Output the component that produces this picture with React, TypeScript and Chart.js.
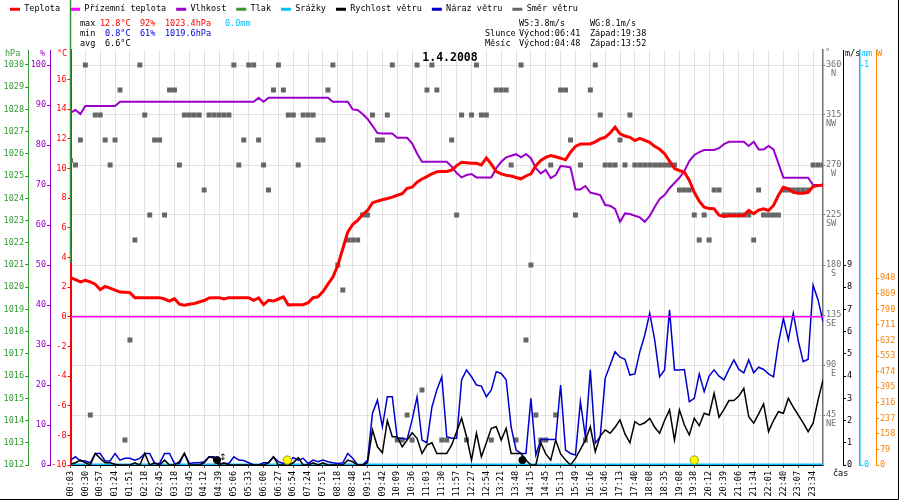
import React, { useEffect, useRef } from 'react';
import { Chart, registerables } from 'chart.js';

Chart.register(...registerables);

const FONT = "'DejaVu Sans Mono', monospace";

// time label shown every 3rd sample
const timeLabels = [
  '00:03', '00:30', '00:57', '01:24', '01:51', '02:18', '02:45', '03:18', '03:45', '04:12',
  '04:39', '05:06', '05:33', '06:00', '06:27', '06:54', '07:24', '07:51', '08:18', '08:48',
  '09:15', '09:42', '10:09', '10:36', '11:03', '11:30', '11:57', '12:27', '12:54', '13:21',
  '13:48', '14:15', '14:45', '15:13', '15:49', '16:16', '16:46', '17:13', '17:40', '18:08',
  '18:35', '19:08', '19:38', '20:12', '20:39', '21:06', '21:34', '22:01', '22:40', '23:07',
  '23:34',
];

// °C
const temperature = [
  2.64, 2.5, 2.35, 2.46, 2.35, 2.2, 1.83, 2.05, 1.94, 1.8,
  1.67, 1.65, 1.63, 1.29, 1.29, 1.29, 1.29, 1.29, 1.29, 1.2,
  1.06, 1.22, 0.85, 0.78, 0.84, 0.9, 1.0, 1.1, 1.27, 1.29,
  1.29, 1.2, 1.29, 1.29, 1.29, 1.29, 1.29, 1.11, 1.27, 0.82,
  1.11, 1.06, 1.2, 1.34, 0.8, 0.82, 0.82, 0.82, 0.95, 1.29,
  1.35, 1.7, 2.2, 2.68, 3.47, 4.59, 5.71, 6.23, 6.5, 6.9,
  7.17, 7.69, 7.8, 7.9, 7.98, 8.07, 8.2, 8.3, 8.67, 8.74,
  9.08, 9.3, 9.46, 9.65, 9.78, 9.8, 9.8, 9.9, 10.2, 10.43,
  10.4, 10.36, 10.36, 10.25, 10.72, 10.3, 9.8, 9.64, 9.55, 9.5,
  9.4, 9.31, 9.5, 9.64, 10.2, 10.55, 10.75, 10.88, 10.8, 10.7,
  10.59, 11.1, 11.5, 11.66, 11.66, 11.66, 11.8, 12.0, 12.11, 12.4,
  12.8, 12.34, 12.2, 12.11, 11.89, 12.04, 11.9, 11.77, 11.5, 11.3,
  11.0, 10.5, 10.0, 9.87, 9.75, 9.2, 8.4, 7.8, 7.39, 7.3,
  7.29, 6.85, 6.77, 6.84, 6.84, 6.84, 6.84, 7.17, 6.95, 7.2,
  7.29, 7.17, 7.51, 8.2, 8.74, 8.63, 8.4, 8.34, 8.34, 8.4,
  8.79, 8.85, 8.9,
];

// °C, ground sensor
const groundTemperature = [
  0, 0, 0, 0, 0, 0, 0, 0, 0, 0, 0, 0, 0, 0, 0, 0, 0,
  0, 0, 0, 0, 0, 0, 0, 0, 0, 0, 0, 0, 0, 0, 0, 0, 0,
  0, 0, 0, 0, 0, 0, 0, 0, 0, 0, 0, 0, 0, 0, 0, 0, 0,
  0, 0, 0, 0, 0, 0, 0, 0, 0, 0, 0, 0, 0, 0, 0, 0, 0,
  0, 0, 0, 0, 0, 0, 0, 0, 0, 0, 0, 0, 0, 0, 0, 0, 0,
  0, 0, 0, 0, 0, 0, 0, 0, 0, 0, 0, 0, 0, 0, 0, 0, 0,
  0, 0, 0, 0, 0, 0, 0, 0, 0, 0, 0, 0, 0, 0, 0, 0, 0,
  0, 0, 0, 0, 0, 0, 0, 0, 0, 0, 0, 0, 0, 0, 0, 0, 0,
  0, 0, 0, 0, 0, 0, 0, 0, 0, 0, 0, 0, 0, 0, 0, 0, 0,
];

// %
const humidity = [
  88.1, 88.75, 87.75, 89.75, 89.75, 89.75, 89.75, 89.75, 89.75, 89.75,
  90.8, 90.8, 90.8, 90.8, 90.8, 90.8, 90.8, 90.8, 90.8, 90.8,
  90.8, 90.8, 90.8, 90.8, 90.8, 90.8, 90.8, 90.8, 90.8, 90.8,
  90.8, 90.8, 90.8, 90.8, 90.8, 90.8, 90.8, 90.8, 91.8, 90.8,
  91.8, 91.8, 91.8, 91.8, 91.8, 91.8, 91.8, 91.8, 91.8, 91.8,
  91.8, 91.8, 91.8, 90.8, 90.8, 90.8, 90.8, 88.9, 88.75, 87.75,
  86.5, 84.8, 83.0, 82.9, 82.9, 82.9, 81.8, 81.8, 81.8, 80.4,
  77.9, 75.8, 75.8, 75.8, 75.8, 75.8, 75.8, 74.6, 73.0, 71.9,
  72.5, 72.75, 71.9, 71.9, 71.9, 71.9, 74.2, 75.8, 76.9, 77.3,
  77.7, 76.9, 77.75, 76.7, 74.2, 72.9, 73.75, 71.7, 72.5, 74.75,
  74.6, 74.4, 68.9, 68.9, 69.75, 68.1, 67.8, 67.5, 65.0, 64.8,
  64.0, 60.8, 62.9, 62.75, 62.3, 61.9, 60.8, 62.25, 64.5, 66.5,
  67.5, 69.2, 70.5, 71.8, 73.5, 76.0, 77.5, 78.2, 78.75, 78.75,
  78.75, 79.2, 80.2, 80.8, 80.8, 80.8, 80.8, 79.75, 80.8, 78.9,
  78.9, 79.75, 78.9, 75.4, 71.8, 71.8, 71.8, 71.8, 71.8, 71.8,
  70, 70, 70,
];

// hPa: only the first sample is drawn, its trace runs off the top of the chart
const pressure = [1021.1, 1036];

// mm
const rain = [
  0, 0, 0, 0, 0, 0, 0, 0, 0, 0, 0, 0, 0, 0, 0, 0, 0,
  0, 0, 0, 0, 0, 0, 0, 0, 0, 0, 0, 0, 0, 0, 0, 0, 0,
  0, 0, 0, 0, 0, 0, 0, 0, 0, 0, 0, 0, 0, 0, 0, 0, 0,
  0, 0, 0, 0, 0, 0, 0, 0, 0, 0, 0, 0, 0, 0, 0, 0, 0,
  0, 0, 0, 0, 0, 0, 0, 0, 0, 0, 0, 0, 0, 0, 0, 0, 0,
  0, 0, 0, 0, 0, 0, 0, 0, 0, 0, 0, 0, 0, 0, 0, 0, 0,
  0, 0, 0, 0, 0, 0, 0, 0, 0, 0, 0, 0, 0, 0, 0, 0, 0,
  0, 0, 0, 0, 0, 0, 0, 0, 0, 0, 0, 0, 0, 0, 0, 0, 0,
  0, 0, 0, 0, 0, 0, 0, 0, 0, 0, 0, 0, 0, 0, 0, 0, 0,
];

// m/s
const windSpeed = [
  0.03, 0.1, 0.22, 0.1, 0, 0.52, 0.3, 0.1, 0.1, 0.03,
  0, 0, 0, 0.1, 0, 0.52, 0, 0.1, 0, 0.22,
  0, 0, 0.15, 0.52, 0, 0, 0, 0.1, 0.37, 0.3,
  0, 0.1, 0, 0, 0, 0, 0, 0, 0, 0,
  0.1, 0.37, 0, 0, 0, 0.1, 0.33, 0, 0, 0.1,
  0, 0.1, 0, 0, 0, 0, 0.22, 0.15, 0, 0,
  0.1, 1.58, 0.82, 0.55, 2.0, 1.27, 1.27, 0.82, 1.12, 1.45,
  1.2, 0.52, 0.9, 1.0, 0.52, 0.52, 0.52, 0.9, 1.5, 2.1,
  1.27, 0.22, 1.43, 0.37, 1.0, 1.65, 1.72, 1.12, 1.65, 0.52,
  0.52, 0.52, 0.22, 0, 0, 1.0, 0.5, 0.22, 1.12, 0.5,
  0.22, 0, 0.3, 0.7, 1.12, 1.72, 0.6, 1.3, 1.58, 1.43,
  1.7, 2.03, 1.4, 1.0, 1.95, 1.8, 1.9, 2.1, 1.7, 1.43,
  2.0, 2.48, 1.12, 2.48, 1.8, 1.35, 2.1, 1.77, 2.33, 2.25,
  3.23, 2.15, 2.5, 2.9, 2.9, 3.1, 3.45, 2.17, 1.88, 2.3,
  2.75, 1.5, 2.0, 2.4, 2.33, 3.0, 2.6, 2.25, 1.9, 1.5,
  1.88, 2.92, 3.83,
];

// m/s
const windGust = [
  0.22, 0.37, 0.18, 0.18, 0.1, 0.52, 0.52, 0.18, 0.18, 0.52,
  0.22, 0.3, 0.3, 0.22, 0.3, 0.52, 0.52, 0.07, 0.07, 0.52,
  0.52, 0.07, 0.07, 0.52, 0.07, 0.1, 0.1, 0.15, 0.37, 0.37,
  0.07, 0.07, 0.07, 0.37, 0.22, 0.2, 0.1, 0, 0, 0.1,
  0.1, 0.37, 0.15, 0.07, 0.15, 0.33, 0.22, 0.3, 0.07, 0.22,
  0.15, 0.22, 0.15, 0.1, 0.07, 0.1, 0.52, 0.3, 0, 0,
  0.22, 2.33, 2.92, 1.72, 3.07, 3.07, 1.2, 1.2, 1.15, 2.03,
  3.07, 1.12, 1.0, 2.6, 3.38, 3.97, 1.27, 1.2, 1.2, 3.83,
  4.28, 3.97, 3.6, 3.55, 3.07, 3.38, 4.2, 4.12, 3.83, 1.72,
  0.67, 0.52, 0.52, 3.0, 0.45, 1.15, 1.15, 1.15, 1.15, 3.6,
  0.67, 0.52, 0.45, 2.85, 1.27, 4.28, 0.98, 1.27, 3.9, 4.5,
  5.1, 4.85, 4.76, 4.05, 4.1, 5.1, 5.85, 6.83, 5.63, 3.97,
  4.28, 6.98, 4.28, 4.28, 4.3, 2.85, 3.0, 4.1, 3.3, 4.0,
  4.28, 4.0, 3.83, 4.3, 4.73, 4.3, 4.15, 4.73, 4.15, 4.4,
  4.3, 4.1, 3.97, 5.5, 6.6, 5.63, 6.83, 5.6, 4.65, 4.76,
  8.1, 7.43, 6.45,
];

// degrees
const windDirection = [
  274, 270, 292.5, 360, 45, 315, 315, 292.5, 270, 292.5,
  337.5, 22.5, 112.5, 202.5, 360, 315, 225, 292.5, 292.5, 225,
  337.5, 337.5, 270, 315, 315, 315, 315, 247.5, 315, 315,
  315, 315, 315, 360, 270, 292.5, 360, 360, 292.5, 270,
  247.5, 337.5, 360, 337.5, 315, 315, 270, 315, 315, 315,
  292.5, 292.5, 337.5, 360, 180, 157.5, 202.5, 202.5, 202.5, 225,
  225, 315, 292.5, 292.5, 315, 360, 22.5, 22.5, 45, 22.5,
  360, 67.5, 337.5, 360, 337.5, 22.5, 22.5, 292.5, 225, 315,
  22.5, 315, 360, 315, 315, 22.5, 337.5, 337.5, 337.5, 270,
  22.5, 360, 112.5, 180, 45, 22.5, 22.5, 270, 45, 337.5,
  337.5, 292.5, 225, 270, 22.5, 337.5, 360, 315, 270, 270,
  270, 292.5, 270, 315, 270, 270, 270, 270, 270, 270,
  270, 270, 270, 247.5, 247.5, 247.5, 225, 202.5, 225, 202.5,
  247.5, 247.5, 225, 225, 225, 225, 225, 225, 202.5, 247.5,
  225, 225, 225, 225, 247.5, 247.5, 247.5, 247.5, 247.5, 247.5,
  270, 270, 270,
];

// sun / moon rise and set, as sample positions
const sunEvents = [43.8, 126.0];
const moonEvents = [29.6, 91.3];
const moonArrow = [30.8];

const dirTicks = [45, 90, 135, 180, 225, 270, 315, 360];
const dirNames = ['NE', ' E', 'SE', ' S', 'SW', ' W', 'NW', ' N'];

const statsMax = ['12.8°C', '92%', '1023.4hPa', '0.0mm'];
const statsMin = ['0.8°C', '61%', '1019.6hPa'];
const statsAvg = ['6.6°C'];
const windStats = ['WS:3.8m/s', 'WG:8.1m/s'];
const sunText = ['Slunce', 'Východ:06:41', 'Západ:19:38'];
const moonText = ['Měsíc', 'Východ:04:48', 'Západ:13:52'];
const chartTitle = '1.4.2008';

const RED = '#ff0000';
const BLUE = '#0000dd';
const CYAN = '#00bfff';
const GREEN = '#339933';
const PURPLE = '#9900cc';
const GRAY = '#707070';
const ORANGE = '#ff8000';
const GRID = '#e6e1e1';

const series = (vals: number[]) => vals.map((v, i) => ({ x: i, y: v }));

const textPlugin = {
  id: 'meteoTexts',
  afterDraw(chart: any) {
    const ctx = chart.ctx;
    ctx.save();
    ctx.textBaseline = 'middle';
    ctx.textAlign = 'left';
    ctx.font = `8.5px ${FONT}`;
    const put = (s: string, x: number, y: number, c: string) => {
      ctx.fillStyle = c;
      ctx.fillText(s, x, y);
    };
    // statistics
    put('max', 80, 24, '#000');
    put(statsMax[0], 100, 24, RED);
    put(statsMax[1], 140, 24, RED);
    put(statsMax[2], 165, 24, RED);
    put(statsMax[3], 225, 24, CYAN);
    put('min', 80, 34, '#000');
    put(statsMin[0], 105, 34, BLUE);
    put(statsMin[1], 140, 34, BLUE);
    put(statsMin[2], 165, 34, BLUE);
    put('avg', 80, 44, '#000');
    put(statsAvg[0], 105, 44, '#000');
    put(windStats[0], 519, 24, '#000');
    put(windStats[1], 590, 24, '#000');
    put(sunText[0], 485, 34, '#000');
    put(sunText[1], 519, 34, '#000');
    put(sunText[2], 590, 34, '#000');
    put(moonText[0], 485, 44, '#000');
    put(moonText[1], 519, 44, '#000');
    put(moonText[2], 590, 44, '#000');
    // units
    put('hPa', 5, 54, GREEN);
    put('%', 40, 54, PURPLE);
    put('°C', 57, 54, RED);
    put('°', 825, 53, GRAY);
    put('m/s', 845, 54, '#000');
    put('mm', 862, 54, CYAN);
    put('W', 877, 54, ORANGE);
    put('čas', 833, 474, '#000');
    // moon arrow
    const xs = chart.scales.x;
    const yw = chart.scales.yW;
    ctx.font = `9px 'DejaVu Sans'`;
    ctx.textAlign = 'center';
    moonArrow.forEach((v) => put('↕', xs.getPixelForValue(v), yw.getPixelForValue(0.32), '#000'));
    // title
    ctx.font = `bold 11.5px ${FONT}`;
    put(chartTitle, 450, 58, '#000');
    // frame
    ctx.strokeStyle = '#000';
    ctx.lineWidth = 1;
    ctx.beginPath();
    ctx.moveTo(898.5, 0);
    ctx.lineTo(898.5, 499.5);
    ctx.lineTo(0, 499.5);
    ctx.stroke();
    ctx.restore();
  },
};

export default function App() {
  const ref = useRef<HTMLCanvasElement>(null);

  useEffect(() => {
    const canvas = ref.current;
    if (!canvas) return;
    const axisFont = { family: FONT, size: 8.5 };
    const fixWidth = (w: number) => (s: any) => {
      s.width = w;
    };
    const upTo = (m: number) => (s: any) => {
      s.ticks = s.ticks.filter((t: any) => t.value <= m);
    };
    const yAxis = (o: any) => ({
      type: 'linear',
      position: o.position,
      weight: o.weight,
      min: o.min,
      max: o.max,
      ticks: {
        stepSize: o.step,
        includeBounds: false,
        color: o.color,
        font: axisFont,
        padding: 1,
        autoSkip: false,
        callback: (v: any) => String(v),
      },
      grid: { drawOnChartArea: false, tickLength: 3, color: o.color },
      border: { color: o.color, width: o.bw ?? 1 },
      afterFit: fixWidth(o.width),
      afterBuildTicks: o.limit !== undefined ? upTo(o.limit) : undefined,
    });

    const chart = new Chart(canvas, {
      type: 'line',
      data: {
        datasets: [
          { label: 'Teplota', data: series(temperature), yAxisID: 'yT', borderColor: RED, backgroundColor: RED, borderWidth: 3, order: 2 },
          { label: 'Přízemní teplota', data: series(groundTemperature), yAxisID: 'yT', borderColor: '#ff00ff', backgroundColor: '#ff00ff', borderWidth: 1.5, order: 3 },
          { label: 'Vlhkost', data: series(humidity), yAxisID: 'yH', borderColor: PURPLE, backgroundColor: PURPLE, borderWidth: 2, order: 4 },
          { label: 'Tlak', data: pressure.map((v) => ({ x: 0, y: v })), yAxisID: 'yP', borderColor: GREEN, backgroundColor: GREEN, borderWidth: 1.5, clip: false, order: 1 },
          { label: 'Srážky', data: series(rain), yAxisID: 'yR', borderColor: CYAN, backgroundColor: CYAN, borderWidth: 3, order: 7 },
          { label: 'Rychlost větru', data: series(windSpeed), yAxisID: 'yW', borderColor: '#000', backgroundColor: '#000', borderWidth: 1.5, order: 5 },
          { label: 'Náraz větru', data: series(windGust), yAxisID: 'yW', borderColor: '#0000cc', backgroundColor: '#0000cc', borderWidth: 1.5, order: 6 },
          { label: 'Směr větru', data: series(windDirection), yAxisID: 'yD', showLine: false, pointStyle: 'rect', pointRadius: 3.5, pointBorderWidth: 0, borderColor: '#666', backgroundColor: '#666', pointBackgroundColor: '#666', order: 8 },
          { label: 'sun', data: sunEvents.map((x) => ({ x, y: 0.22 })), yAxisID: 'yW', showLine: false, pointRadius: 4.2, pointBackgroundColor: '#ffff00', pointBorderColor: '#999900', pointBorderWidth: 1, order: 0 },
          { label: 'moon', data: moonEvents.map((x) => ({ x, y: 0.22 })), yAxisID: 'yW', showLine: false, pointRadius: 3.6, pointBackgroundColor: '#000', pointBorderColor: '#000', pointBorderWidth: 1, order: 0 },
        ],
      },
      options: {
        animation: false,
        responsive: false,
        maintainAspectRatio: false,
        events: [],
        layout: { padding: { top: -5, left: 0, right: 0, bottom: 0 } },
        elements: { line: { tension: 0 }, point: { radius: 0 } },
        plugins: {
          legend: {
            position: 'top',
            align: 'start',
            weight: 3000,
            labels: {
              font: axisFont,
              color: '#000',
              boxWidth: 10,
              boxHeight: 3,
              padding: 10,
              filter: (it: any) => it.datasetIndex < 8,
              sort: (a: any, b: any) => a.datasetIndex - b.datasetIndex,
              generateLabels: (c: any) =>
                (Chart.defaults.plugins.legend.labels as any)
                  .generateLabels(c)
                  .map((l: any) => ({ ...l, fillStyle: l.strokeStyle, lineWidth: 0 })),
            },
          },
          title: { display: true, text: '', padding: { top: 0, bottom: 16.5 }, font: { family: FONT, size: 10, lineHeight: 1 } },
          tooltip: { enabled: false },
        },
        scales: {
          x: {
            type: 'linear',
            position: 'bottom',
            min: 0,
            max: temperature.length - 1,
            ticks: {
              stepSize: 3,
              includeBounds: false,
              autoSkip: false,
              minRotation: 90,
              maxRotation: 90,
              padding: 3,
              color: '#000',
              font: axisFont,
              callback: (v: any) => timeLabels[Math.round(Number(v) / 3)] ?? '',
            },
            grid: { color: GRID, tickLength: 3, tickColor: '#444' },
            border: { color: '#000' },
            afterFit: (s: any) => {
              s.height = 35;
            },
          },
          yT: yAxis({ position: 'left', weight: 1, min: -10, max: 18, step: 2, color: RED, width: 20.5, limit: 16, bw: 2 }),
          yH: yAxis({ position: 'left', weight: 2, min: 0, max: 103.75, step: 10, color: PURPLE, width: 22 }),
          yP: yAxis({ position: 'left', weight: 3, min: 1012, max: 1030.675, step: 1, color: GREEN, width: 28 }),
          yD: {
            type: 'linear',
            position: 'right',
            weight: 1,
            min: 0,
            max: 373.5,
            ticks: {
              stepSize: 45,
              includeBounds: false,
              autoSkip: false,
              color: GRAY,
              font: { family: FONT, size: 8.5, lineHeight: 1 },
              padding: 1,
              labelOffset: 4.25,
              callback: (v: any) => {
                const k = dirTicks.indexOf(Number(v));
                return k < 0 ? '' : [String(v), dirNames[k]];
              },
            },
            grid: { drawOnChartArea: true, color: GRID, tickColor: GRAY, tickLength: 2 },
            border: { color: GRAY, width: 1.5 },
            afterBuildTicks: (s: any) => {
              s.ticks = dirTicks.map((v) => ({ value: v }));
            },
            afterFit: fixWidth(20),
          },
          yW: yAxis({ position: 'right', weight: 2, min: 0, max: 18.675, step: 1, color: '#000', width: 17, limit: 9 }),
          yR: yAxis({ position: 'right', weight: 3, min: 0, max: 1.0375, step: 1, color: CYAN, width: 16, bw: 1.5 }),
          yS: yAxis({ position: 'right', weight: 4, min: 0, max: 2107, step: 79, color: ORANGE, width: 24, limit: 948 }),
        },
      } as any,
      plugins: [textPlugin],
    } as any);
    return () => chart.destroy();
  }, []);

  return (
    <div style={{ position: 'absolute', left: 0, top: 0, width: 900, height: 500, background: '#fff' }}>
      <canvas ref={ref} width={900} height={500} style={{ display: 'block', width: 900, height: 500 }} />
    </div>
  );
}
